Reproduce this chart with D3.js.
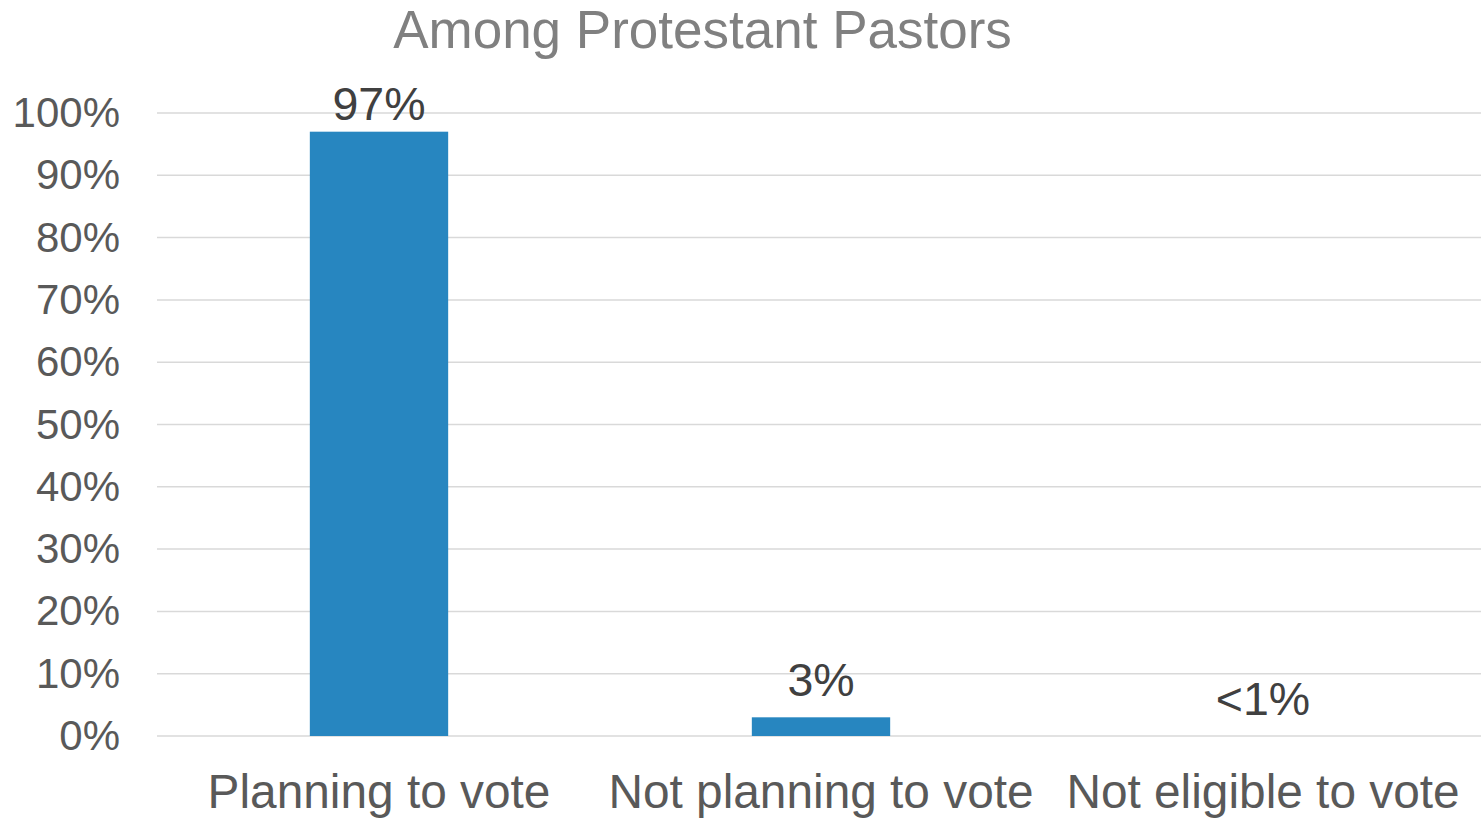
<!DOCTYPE html>
<html><head><meta charset="utf-8">
<script src="https://cdn.jsdelivr.net/npm/d3@7"></script>
<style>html,body{margin:0;padding:0;background:#fff;}svg{display:block;}</style>
</head><body>
<script>
const categories = ["Planning to vote", "Not planning to vote", "Not eligible to vote"];
const values = [97, 3, 0];
const valueLabels = ["97%", "3%", "<1%"];
const yTicks = [0, 10, 20, 30, 40, 50, 60, 70, 80, 90, 100];
const title = "Among Protestant Pastors";

const W = 1481, H = 819;
const font = "'Liberation Sans', Arial, sans-serif";
const svg = d3.select("body").append("svg").attr("width", W).attr("height", H);

const x = d3.scaleBand().domain(categories).range([158, 1484]).paddingInner(0).paddingOuter(0);
const y = d3.scaleLinear().domain([0, 100]).range([736, 113]);
const barW = x.bandwidth() * 0.313;

// gridlines
svg.append("g").selectAll("line").data(yTicks).join("line")
  .attr("x1", 157).attr("x2", 1481)
  .attr("y1", d => y(d)).attr("y2", d => y(d))
  .attr("stroke", "#d9d9d9").attr("stroke-width", 1.5);

// y tick labels
svg.append("g").selectAll("text").data(yTicks).join("text")
  .attr("x", 120).attr("y", d => y(d) + 14)
  .attr("text-anchor", "end")
  .attr("font-family", font).attr("font-size", 42).attr("fill", "#595959")
  .text(d => d + "%");

// bars
svg.append("g").selectAll("rect").data(categories).join("rect")
  .attr("x", (d) => x(d) + x.bandwidth() / 2 - barW / 2)
  .attr("width", barW)
  .attr("y", (d, i) => y(values[i]))
  .attr("height", (d, i) => y(0) - y(values[i]))
  .attr("fill", "#2786c0");

// value labels
svg.append("g").selectAll("text").data(categories).join("text")
  .attr("x", d => x(d) + x.bandwidth() / 2)
  .attr("y", (d, i) => Math.max(y(values[i]) - 21, 120))
  .attr("text-anchor", "middle")
  .attr("font-family", font).attr("font-size", 46.5).attr("fill", "#404040")
  .text((d, i) => valueLabels[i]);

// category labels
svg.append("g").selectAll("text").data(categories).join("text")
  .attr("x", d => x(d) + x.bandwidth() / 2)
  .attr("y", 808)
  .attr("text-anchor", "middle")
  .attr("font-family", font).attr("font-size", 47.8).attr("fill", "#595959")
  .text(d => d);

// title
svg.append("text")
  .attr("x", 702.5).attr("y", 48)
  .attr("text-anchor", "middle")
  .attr("font-family", font).attr("font-size", 53).attr("fill", "#808080")
  .text(title);
</script>
</body></html>
